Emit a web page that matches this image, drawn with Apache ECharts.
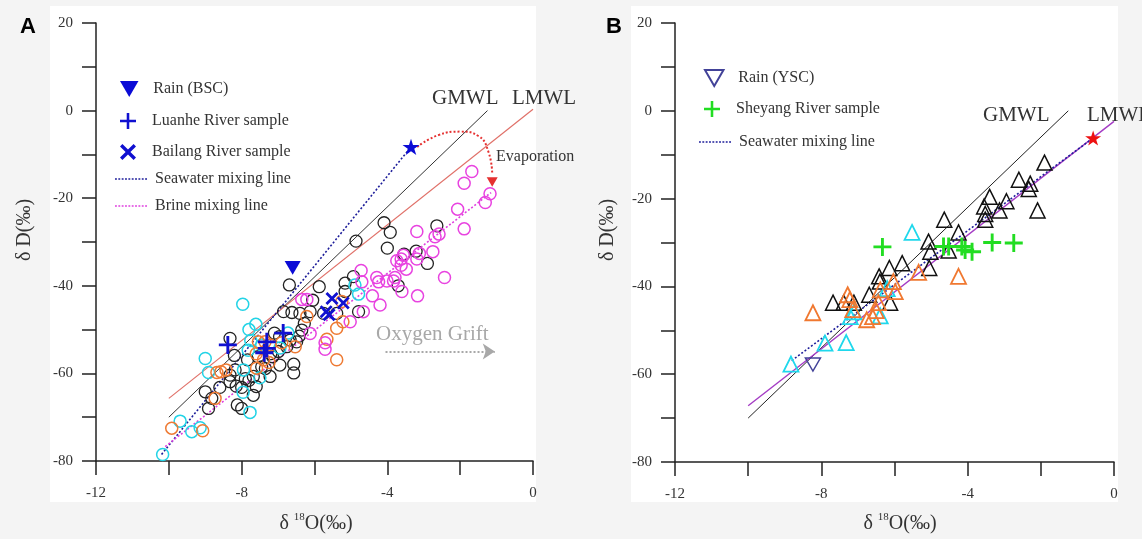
<!DOCTYPE html>
<html>
<head>
<meta charset="utf-8">
<script src="https://cdn.jsdelivr.net/npm/echarts@6/dist/echarts.min.js"></script>
<style>
  html, body { margin: 0; padding: 0; background: #f4f4f4; }
  #chart { width: 1142px; height: 539px; }
</style>
</head>
<body>
<div id="chart"></div>
<script>
// ---------- Panel A: Luanhe / Bailang area waters (δ18O, δD in ‰) ----------
const gmwlLine = [[-10, -70], [-1.25, 0]];
const lmwlLineA = [[-10, -65.7], [0, 0.3]];
const seawaterLineA = [[-10.2, -78.5], [-3.35, -8.3]];
const brineLineA = [[-10.1, -76.7], [-1.15, -18.7]];
const evaporationPath = [[-3.18, -8.3], [-2.6, -5.6], [-2.0, -4.8], [-1.5, -5.8], [-1.22, -9.5], [-1.12, -14.5]];
const evaporationHead = [[-1.12, -16.3]];
const oxygenShift = [[-4.05, -55], [-1.05, -55]];

const blackCirclesA = [[-6.69,-39.8],[-5.87,-40.2],[-6.05,-43.3],[-4.93,-37.9],[-5.16,-39.4],[-5.16,-41.3],[-4.86,-29.8],[-4.09,-25.6],[-3.92,-27.8],[-4.0,-31.4],[-2.64,-26.3],[-3.21,-32.1],[-2.9,-34.9],[-3.54,-32.8],[-3.7,-40.0],[-4.79,-45.9],[-5.39,-46.3],[-5.75,-46.3],[-6.12,-45.9],[-6.4,-46.3],[-6.62,-46.1],[-6.85,-45.9],[-6.28,-48.6],[-6.35,-50.1],[-6.42,-51.5],[-6.49,-52.8],[-6.67,-52.4],[-6.96,-51.6],[-7.1,-50.8],[-6.57,-57.9],[-6.57,-59.9],[-6.76,-53.9],[-6.99,-55.0],[-6.95,-58.1],[-7.22,-60.7],[-7.84,-56.9],[-7.68,-65.0],[-7.6,-63.0],[-7.68,-60.7],[-7.8,-61.6],[-8.32,-52.0],[-8.18,-59.2],[-8.32,-60.4],[-9.0,-64.2],[-8.82,-65.7],[-8.91,-68.0],[-8.6,-63.2],[-8.32,-61.9],[-8.15,-62.9],[-8.0,-63.2],[-8.12,-67.2],[-8.0,-68.0],[-7.55,-56.2],[-7.2,-55.5],[-7.45,-58.5],[-8.2,-55.9],[-7.35,-58.9],[-7.15,-56.2],[-7.9,-61.2]];
const cyanCirclesA = [[-7.97,-44.2],[-10.17,-78.5],[-9.69,-70.9],[-9.37,-73.3],[-9.14,-72.4],[-9.0,-56.6],[-8.91,-59.8],[-7.8,-50.0],[-7.61,-48.8],[-7.96,-64.3],[-7.77,-68.9],[-4.89,-39.8],[-4.79,-41.9],[-6.73,-50.8],[-7.45,-53.5],[-7.95,-59.2],[-7.75,-52.5],[-6.95,-54.2],[-7.5,-61.0],[-7.82,-54.7]];
const orangeCirclesA = [[-9.92,-72.5],[-9.07,-73.1],[-8.68,-59.8],[-8.57,-59.6],[-8.43,-59.2],[-8.73,-65.7],[-7.59,-58.8],[-7.54,-52.8],[-7.36,-52.8],[-7.22,-53.5],[-7.4,-56.9],[-6.53,-53.9],[-5.39,-56.9],[-5.39,-49.7],[-5.22,-48.2],[-5.66,-52.2],[-6.21,-47.0],[-5.25,-43.6],[-7.6,-55.5],[-7.25,-57.5],[-6.9,-53.0]];
const magentaCirclesA = [[-1.68,-13.9],[-1.89,-16.6],[-1.18,-19.0],[-1.31,-21.0],[-2.07,-22.5],[-1.89,-27.0],[-3.19,-27.6],[-2.69,-28.8],[-2.58,-28.2],[-2.75,-32.2],[-3.12,-32.6],[-3.19,-33.9],[-3.56,-33.0],[-3.62,-33.9],[-3.74,-34.3],[-3.62,-35.3],[-3.48,-36.2],[-2.43,-38.1],[-3.17,-42.3],[-3.79,-38.1],[-3.83,-38.9],[-3.6,-41.3],[-4.29,-38.1],[-4.24,-39.1],[-4.01,-38.9],[-4.72,-36.5],[-4.70,-39.1],[-4.41,-42.3],[-4.2,-44.4],[-4.66,-45.9],[-5.02,-48.2],[-6.35,-43.1],[-6.21,-43.1],[-5.71,-53.0],[-5.71,-54.5],[-6.12,-50.9]];

const rainBSC = [[-6.6, -35.9]];
const luanheRiver = [[-8.38,-53.5],[-6.86,-50.8],[-7.31,-52.8],[-7.31,-54.3],[-7.38,-55.3]];
const bailangRiver = [[-5.52,-42.9],[-5.21,-43.9],[-5.68,-45.9],[-5.6,-46.6]];
const seawaterEndA = [[-3.35, -8.3]];

// ---------- Panel B: Sheyang area waters ----------
const lmwlLineB = [[-10, -67.2], [0, -2.4]];
const seawaterLineB = [[-8.81, -56.9], [-0.57, -6.2]];

const blackTrianglesB = [[-1.9,-11.8],[-2.6,-15.7],[-2.29,-16.6],[-2.33,-17.8],[-2.09,-22.7],[-2.94,-20.6],[-3.13,-22.7],[-3.4,-19.6],[-3.55,-21.8],[-3.52,-23.5],[-3.52,-24.8],[-4.64,-24.8],[-4.25,-27.7],[-5.07,-29.8],[-5.02,-32.1],[-4.52,-31.8],[-5.05,-35.8],[-5.79,-34.7],[-6.14,-35.8],[-6.42,-37.7],[-6.4,-38.9],[-6.69,-41.9],[-6.12,-43.7],[-7.11,-43.7],[-7.39,-43.7],[-7.68,-43.7]];
const cyanTrianglesB = [[-5.52,-27.7],[-8.83,-57.7],[-7.9,-52.9],[-7.32,-52.8],[-7.21,-46.9],[-7.1,-45.8],[-6.39,-46.7],[-6.2,-40.5]];
const orangeTrianglesB = [[-8.23,-46.0],[-7.28,-41.9],[-7.22,-43.0],[-7.14,-45.3],[-6.76,-47.6],[-6.6,-46.9],[-6.44,-43.7],[-6.39,-40.8],[-6.03,-38.9],[-5.98,-41.2],[-5.34,-36.8],[-4.25,-37.7],[-6.5,-45.5]];
const sheyangRiver = [[-6.33,-31.0],[-4.66,-30.9],[-4.52,-30.9],[-4.16,-30.9],[-4.07,-31.7],[-3.88,-32.1],[-3.33,-30.0],[-2.74,-30.1]];
const rainYSC = [[-8.23, -57.8]];
const seawaterEndB = [[-0.57, -6.2]];

// ---------- axis ticks ----------
const xMin = -12, xMax = 0, xStep = 2, xLabelStep = 4;
const yMin = -80, yMax = 20, yStep = 10, yLabelStep = 20;

// ---------- styling helpers ----------
const SERIF = "'Liberation Serif', 'Times New Roman', serif";
const PLUS = 'path://M10.5,0H14.5V10.5H25V14.5H14.5V25H10.5V14.5H0V10.5H10.5Z';
const CROSS = 'path://M0,1.5L1.5,0L5,3.5L8.5,0L10,1.5L6.5,5L10,8.5L8.5,10L5,6.5L1.5,10L0,8.5L3.5,5Z';
const TRI_DOWN = 'path://M0,0H10L5,8.66Z';
const STAR = 'path://M50,0L61.2,34.5H97.6L68.2,55.9L79.4,90.5L50,69.1L20.6,90.5L31.8,55.9L2.4,34.5H38.8Z';
// short dotted stroke used as the legend icon of the mixing lines
let dots = '';
for (let i = 0; i < 10; i++) dots += 'M' + (i * 3.2) + ',0h1.8v1.6h-1.8z';
const DOTTED = 'path://' + dots;

const SEA_COLOR = '#1e1e9a';
const BRINE_COLOR = '#e040e0';

function xAxisFor(gridIndex) {
  return {
    type: 'value', gridIndex, min: xMin, max: xMax, interval: xStep,
    axisLine: { onZero: false, lineStyle: { color: '#222', width: 1.5 } },
    axisTick: { length: 14, lineStyle: { color: '#222', width: 1.5 } },
    axisLabel: { margin: 25, fontFamily: SERIF, fontSize: 15, color: '#333',
      formatter: v => (v % xLabelStep === 0 ? String(v) : '') },
    splitLine: { show: false }
  };
}
function yAxisFor(gridIndex) {
  return {
    type: 'value', gridIndex, min: yMin, max: yMax, interval: yStep,
    axisLine: { onZero: false, lineStyle: { color: '#222', width: 1.5 } },
    axisTick: { length: 14, lineStyle: { color: '#222', width: 1.5 } },
    axisLabel: { margin: 23, fontFamily: SERIF, fontSize: 15, color: '#333',
      formatter: v => (v % yLabelStep === 0 ? String(v) : '') },
    splitLine: { show: false }
  };
}
function refLine(name, data, idx, color, width, type) {
  return { name, type: 'line', data, xAxisIndex: idx, yAxisIndex: idx,
    symbol: 'none', silent: true, z: 1, itemStyle: { color },
    lineStyle: { color, width, type: type || 'solid' } };
}
function openMarks(name, data, idx, symbol, size, color, width) {
  return { name, type: 'scatter', data, xAxisIndex: idx, yAxisIndex: idx,
    symbol, symbolSize: size, symbolKeepAspect: true, z: 3,
    itemStyle: { color: 'rgba(0,0,0,0)', borderColor: color, borderWidth: width, opacity: 1 } };
}
function solidMarks(name, data, idx, symbol, size, color) {
  return { name, type: 'scatter', data, xAxisIndex: idx, yAxisIndex: idx,
    symbol, symbolSize: size, symbolKeepAspect: true, z: 4,
    itemStyle: { color, opacity: 1 } };
}

const series = [
  // Panel A
  refLine('GMWL', gmwlLine, 0, '#333', 1),
  refLine('LMWL', lmwlLineA, 0, '#e07068', 1.2),
  refLine('Seawater mixing line', seawaterLineA, 0, SEA_COLOR, 1.6, [2, 2]),
  refLine('Brine mixing line', brineLineA, 0, BRINE_COLOR, 1.6, [2, 2]),
  openMarks('black A', blackCirclesA, 0, 'circle', 12, '#222', 1.3),
  openMarks('cyan A', cyanCirclesA, 0, 'circle', 12, '#22d3e6', 1.5),
  openMarks('orange A', orangeCirclesA, 0, 'circle', 12, '#ee7a33', 1.5),
  openMarks('magenta A', magentaCirclesA, 0, 'circle', 12, '#e843e0', 1.5),
  solidMarks('Rain (BSC)', rainBSC, 0, TRI_DOWN, 16, '#0b0bd6'),
  solidMarks('Luanhe River sample', luanheRiver, 0, PLUS, 18, '#1010d0'),
  solidMarks('Bailang River sample', bailangRiver, 0, CROSS, 13, '#1010d0'),
  solidMarks('seawater A', seawaterEndA, 0, STAR, 17, '#0b0bd6'),
  {
    name: 'evaporation', type: 'line', data: evaporationPath, xAxisIndex: 0, yAxisIndex: 0,
    smooth: 0.5, symbol: 'none', silent: true, z: 3,
    lineStyle: { color: '#e53030', width: 2, type: [2, 2] }
  },
  solidMarks('evaporation head', evaporationHead, 0, TRI_DOWN, 11, '#e53030'),
  {
    name: 'oxygen shift', type: 'line', data: oxygenShift, xAxisIndex: 0, yAxisIndex: 0,
    symbol: ['none', 'arrow'], silent: true, z: 2,
    lineStyle: { opacity: 0 }, itemStyle: { opacity: 0 },
    markLine: {
      silent: true, symbol: ['none', 'arrow'], symbolSize: 12,
      label: { show: false },
      lineStyle: { color: '#a8a8a8', width: 2, type: [2, 2] },
      data: [[{ coord: oxygenShift[0] }, { coord: oxygenShift[1] }]]
    }
  },
  // Panel B
  refLine('GMWL B', gmwlLine, 1, '#222', 1),
  refLine('LMWL B', lmwlLineB, 1, '#a43cc4', 1.4),
  refLine('Seawater mixing line', seawaterLineB, 1, SEA_COLOR, 1.6, [2, 2]),
  openMarks('black B', blackTrianglesB, 1, 'triangle', 15, '#111', 1.5),
  openMarks('cyan B', cyanTrianglesB, 1, 'triangle', 15, '#1fd8ec', 1.8),
  openMarks('orange B', orangeTrianglesB, 1, 'triangle', 15, '#f07830', 1.8),
  solidMarks('Sheyang River sample', sheyangRiver, 1, PLUS, 18, '#22dd22'),
  openMarks('Rain (YSC)', rainYSC, 1, TRI_DOWN, 15, '#424298', 1.5),
  solidMarks('seawater B', seawaterEndB, 1, STAR, 16, '#ee1111')
];

// legend rows: [series name, left, row centre, dotted-line colour or null]
const legendRows = [
  ['Rain (BSC)', 120, 89, null],
  ['Luanhe River sample', 120, 121, null],
  ['Bailang River sample', 120, 152, null],
  ['Seawater mixing line', 115, 179, SEA_COLOR],
  ['Brine mixing line', 115, 206, BRINE_COLOR],
  ['Rain (YSC)', 704, 77, null],
  ['Sheyang River sample', 704, 109, null],
  ['Seawater mixing line', 699, 142, SEA_COLOR]
];
const legends = legendRows.map(([name, left, cy, lineColor]) => ({
  data: [lineColor ? { name, icon: DOTTED, itemStyle: { color: lineColor } } : name],
  left, top: cy - 8, padding: 0, orient: 'horizontal',
  itemWidth: 32, itemHeight: 16, itemGap: 0, selectedMode: false,
  textStyle: { fontFamily: SERIF, fontSize: 16, color: '#333', padding: [0, 0, 0, 3] }
}));

function label(text, x, baseline, size, color, align) {
  return { type: 'text', x, y: baseline - size * 0.33, z: 10, silent: true,
    style: { text, font: size + 'px ' + SERIF, fill: color || '#333',
      align: align || 'left', verticalAlign: 'middle' } };
}
function xTitle(cx) {
  return { type: 'text', x: cx, y: 524, z: 10, silent: true,
    style: { text: '{a|δ }{s|18}{a|O(‰)}', align: 'center', verticalAlign: 'middle',
      rich: {
        a: { font: '20px ' + SERIF, fill: '#333', lineHeight: 24 },
        s: { font: '11px ' + SERIF, fill: '#333', lineHeight: 12, verticalAlign: 'top' }
      } } };
}
function yTitle(cx) {
  return { type: 'text', x: cx, y: 230, rotation: Math.PI / 2, z: 10, silent: true,
    style: { text: 'δ D(‰)', font: '20px ' + SERIF, fill: '#333', align: 'center', verticalAlign: 'middle' } };
}

const graphic = [
  { type: 'rect', shape: { x: 50, y: 6, width: 486, height: 496 }, style: { fill: '#fff' }, z: -10, silent: true },
  { type: 'rect', shape: { x: 631, y: 6, width: 487, height: 496 }, style: { fill: '#fff' }, z: -10, silent: true },
  { type: 'text', x: 28, y: 27, z: 10, style: { text: 'A', font: 'bold 22px Arial, "Liberation Sans", sans-serif', fill: '#000', align: 'center', verticalAlign: 'middle' } },
  { type: 'text', x: 614, y: 27, z: 10, style: { text: 'B', font: 'bold 22px Arial, "Liberation Sans", sans-serif', fill: '#000', align: 'center', verticalAlign: 'middle' } },
  label('GMWL', 432, 105, 21),
  label('LMWL', 512, 105, 21),
  label('Evaporation', 496, 162, 16),
  label('Oxygen Grift', 376, 341, 21, '#a8a8a8'),
  label('GMWL', 983, 122, 21),
  label('LMWL', 1087, 122, 21),
  xTitle(316), xTitle(900),
  yTitle(25), yTitle(608)
];

const chart = echarts.init(document.getElementById('chart'), null, { renderer: 'canvas' });
chart.setOption({
  animation: false,
  backgroundColor: '#f4f4f4',
  textStyle: { fontFamily: SERIF },
  grid: [
    { left: 96, top: 23, width: 437, height: 438 },
    { left: 675, top: 23, width: 439, height: 439 }
  ],
  xAxis: [xAxisFor(0), xAxisFor(1)],
  yAxis: [yAxisFor(0), yAxisFor(1)],
  legend: legends,
  graphic,
  series
});
</script>
</body>
</html>
